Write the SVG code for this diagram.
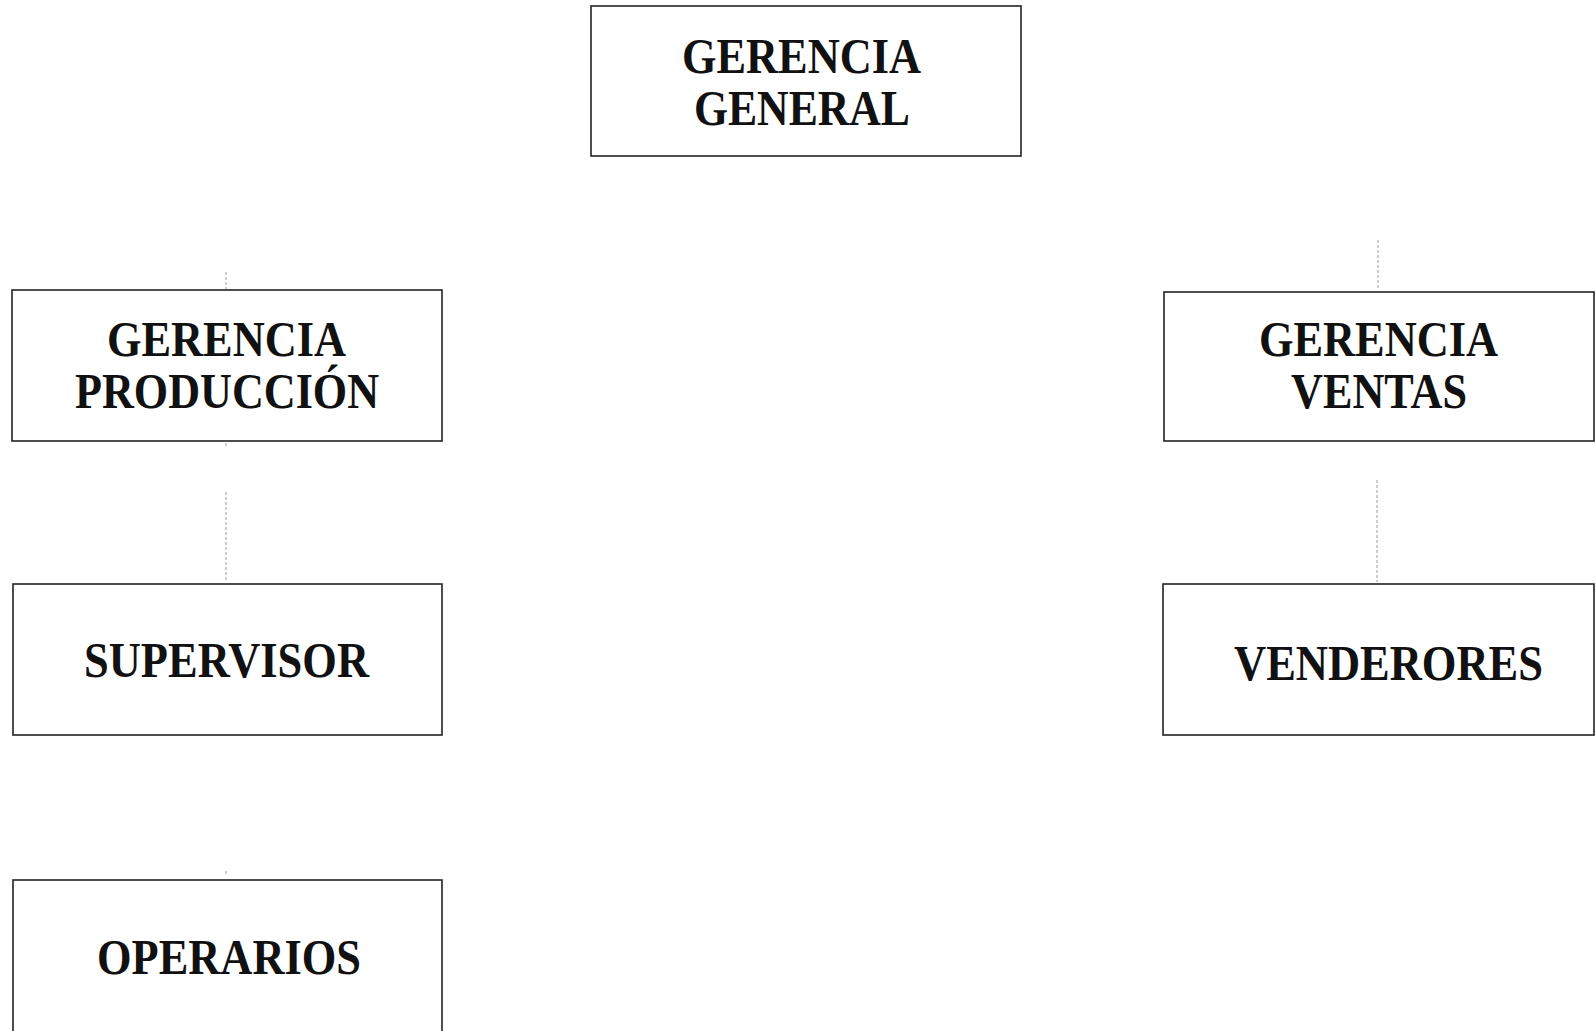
<svg xmlns="http://www.w3.org/2000/svg" width="1596" height="1031" viewBox="0 0 1596 1031">
<style>
.box{fill:#fff;stroke:#222;stroke-width:1.6}
.lbl{font-family:"Liberation Serif","Times New Roman",serif;font-weight:bold;font-size:50px;fill:#111}
.conn{stroke:#9a9a9a;stroke-width:1;stroke-dasharray:3 2;fill:none}
</style>
<rect width="1596" height="1031" fill="#fff"/>
<g id="connectors">
<line class="conn" x1="226" y1="272" x2="226" y2="289"/>
<line class="conn" x1="226" y1="443" x2="226" y2="447"/>
<line class="conn" x1="226" y1="492" x2="226" y2="582"/>
<line class="conn" x1="226" y1="871" x2="226" y2="876"/>
<line class="conn" x1="1378" y1="240" x2="1378" y2="290"/>
<line class="conn" x1="1377" y1="480" x2="1377" y2="582"/>
</g>
<g id="gerencia-general">
<rect class="box" x="591" y="6" width="430" height="150"/>
<text class="lbl" x="682" y="73" textLength="239" lengthAdjust="spacingAndGlyphs">GERENCIA</text>
<text class="lbl" x="694" y="125" textLength="216" lengthAdjust="spacingAndGlyphs">GENERAL</text>
</g>
<g id="gerencia-produccion">
<rect class="box" x="12" y="290" width="430" height="151"/>
<text class="lbl" x="107" y="356" textLength="239" lengthAdjust="spacingAndGlyphs">GERENCIA</text>
<text class="lbl" x="75" y="408" textLength="304" lengthAdjust="spacingAndGlyphs">PRODUCCIÓN</text>
</g>
<g id="gerencia-ventas">
<rect class="box" x="1164" y="292" width="430" height="149"/>
<text class="lbl" x="1259" y="356" textLength="239" lengthAdjust="spacingAndGlyphs">GERENCIA</text>
<text class="lbl" x="1291" y="408" textLength="176" lengthAdjust="spacingAndGlyphs">VENTAS</text>
</g>
<g id="supervisor">
<rect class="box" x="13" y="584" width="429" height="151"/>
<text class="lbl" x="84" y="677" textLength="285" lengthAdjust="spacingAndGlyphs">SUPERVISOR</text>
</g>
<g id="vendedores">
<rect class="box" x="1163" y="584" width="431" height="151"/>
<text class="lbl" x="1234" y="680" textLength="309" lengthAdjust="spacingAndGlyphs">VENDERORES</text>
</g>
<g id="operarios">
<rect class="box" x="13" y="880" width="429" height="170"/>
<text class="lbl" x="97" y="974" textLength="264" lengthAdjust="spacingAndGlyphs">OPERARIOS</text>
</g>
</svg>
